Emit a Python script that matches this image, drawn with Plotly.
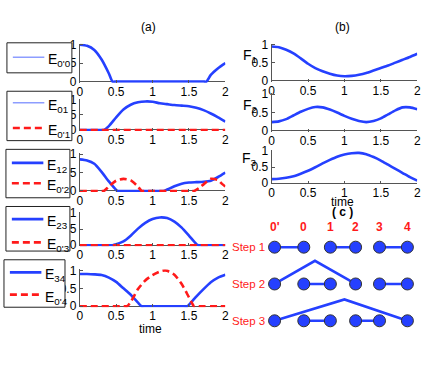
import plotly.graph_objects as go

W, H = 436, 382
BLUE = "#2540ff"
LIGHT = "#8d9dff"
RED = "#ff1a1a"
FONT = "Liberation Sans, Arial, sans-serif"
DASH = "7px,4px"

# ---- values ----
t_e00 = [0, 0.1, 0.2, 0.3, 0.4, 0.45, 0.5, 0.6, 0.7, 0.8, 0.9, 1.0, 1.1, 1.2, 1.3, 1.4, 1.5, 1.6, 1.7, 1.74, 1.8, 1.9, 2.0]
e00 = [1.0, 0.97, 0.86, 0.6, 0.22, 0, 0, 0, 0, 0, 0, 0, 0, 0, 0, 0, 0, 0, 0, 0, 0.18, 0.36, 0.5]

t_e01 = [0, 0.1, 0.2, 0.3, 0.33, 0.4, 0.5, 0.6, 0.7, 0.8, 0.9, 1.0, 1.1, 1.2, 1.3, 1.4, 1.5, 1.6, 1.7, 1.8, 1.9, 2.0]
e01 = [0, 0, 0, 0, 0, 0.13, 0.42, 0.68, 0.84, 0.92, 0.95, 0.94, 0.89, 0.86, 0.83, 0.81, 0.79, 0.74, 0.66, 0.55, 0.42, 0.28]
t_e0p1 = [0, 2]
e0p1 = [0, 0]

t_e12 = [0, 0.1, 0.2, 0.3, 0.4, 0.5, 0.52, 0.6, 0.7, 0.8, 0.9, 1.0, 1.1, 1.15, 1.2, 1.3, 1.4, 1.5, 1.6, 1.7, 1.8, 1.9, 2.0]
e12 = [0.86, 0.83, 0.74, 0.52, 0.26, 0.03, 0, 0, 0, 0, 0, 0, 0, 0, 0.04, 0.13, 0.2, 0.23, 0.24, 0.25, 0.28, 0.38, 0.5]
t_e0p2 = [0, 0.1, 0.2, 0.3, 0.33, 0.4, 0.5, 0.6, 0.7, 0.8, 0.85, 0.9, 1.0, 1.1, 1.2, 1.3, 1.4, 1.5, 1.57, 1.65, 1.7, 1.8, 1.9, 1.95, 2.0]
e0p2 = [0, 0, 0, 0, 0, 0.12, 0.28, 0.33, 0.29, 0.12, 0, 0, 0, 0, 0, 0, 0, 0, 0, 0.1, 0.18, 0.33, 0.3, 0.2, 0.12]

t_e23 = [0, 0.1, 0.2, 0.3, 0.4, 0.45, 0.5, 0.6, 0.7, 0.8, 0.9, 1.0, 1.1, 1.2, 1.3, 1.4, 1.5, 1.6, 1.63, 1.7, 1.8, 1.9, 2.0]
e23 = [0, 0, 0, 0, 0, 0, 0.03, 0.12, 0.3, 0.52, 0.7, 0.82, 0.87, 0.85, 0.74, 0.55, 0.3, 0.04, 0, 0, 0, 0, 0]
t_e0p3 = [0, 2]
e0p3 = [0, 0]

t_e34 = [0, 0.1, 0.2, 0.3, 0.4, 0.5, 0.6, 0.7, 0.8, 0.85, 0.9, 1.0, 1.1, 1.2, 1.3, 1.4, 1.48, 1.5, 1.6, 1.7, 1.8, 1.9, 2.0]
e34 = [0.9, 0.9, 0.89, 0.87, 0.8, 0.68, 0.5, 0.32, 0.1, 0, 0, 0, 0, 0, 0, 0, 0, 0.04, 0.27, 0.48, 0.67, 0.8, 0.88]
t_e0p4 = [0, 0.1, 0.2, 0.3, 0.4, 0.5, 0.6, 0.65, 0.7, 0.8, 0.9, 1.0, 1.1, 1.17, 1.2, 1.3, 1.4, 1.5, 1.57, 1.6, 1.7, 1.8, 1.9, 2.0]
e0p4 = [0, 0, 0, 0, 0, 0, 0, 0, 0.12, 0.48, 0.72, 0.87, 0.97, 1.0, 0.99, 0.88, 0.62, 0.25, 0, 0, 0, 0, 0, 0]

t_f = [0, 0.1, 0.2, 0.3, 0.4, 0.5, 0.6, 0.7, 0.8, 0.9, 1.0, 1.1, 1.2, 1.3, 1.4, 1.5, 1.6, 1.7, 1.8, 1.9, 2.0]
f1 = [0.95, 0.93, 0.86, 0.76, 0.62, 0.47, 0.35, 0.26, 0.19, 0.14, 0.12, 0.13, 0.16, 0.21, 0.28, 0.35, 0.42, 0.5, 0.58, 0.66, 0.75]
f2 = [0.24, 0.26, 0.32, 0.42, 0.52, 0.6, 0.65, 0.64, 0.58, 0.5, 0.41, 0.33, 0.27, 0.24, 0.27, 0.34, 0.45, 0.56, 0.64, 0.64, 0.59]
f3 = [0.13, 0.14, 0.17, 0.22, 0.3, 0.39, 0.5, 0.62, 0.73, 0.83, 0.9, 0.94, 0.95, 0.91, 0.82, 0.71, 0.58, 0.45, 0.32, 0.19, 0.08]

x_ticks = [0, 0.5, 1, 1.5, 2]
x_ticktext = ["0", "0.5", "1", "1.5", "2"]
y_ticks = [0, 0.5, 1]
y_ticktext = ["0", "0.5", "1"]

# panel (c): lattice sites and bonds per step
site_names = ["0'", "0", "1", "2", "3", "4"]
site_pos = [0, 1.1, 2.1, 3.05, 3.95, 5.0]
step_names = ["Step 1", "Step 2", "Step 3"]
step_pairs = [[(0, 1), (2, 3), (4, 5)], [(1, 2), (4, 5)], [(1, 2), (3, 4)]]
# long bonds: (step index, from site, to site, apex x, apex height)
long_bonds = [(1, 0, 3, 1.52, 0.63), (2, 0, 5, 2.63, 0.58)]


def px(x):
    return x / W


def py(y):
    return 1 - y / H


def ydom(p1, p0, pad=0.03):
    u = p0 - p1
    return [py(p0 + pad * u), py(p1 - pad * u)]


def note(text, x, y, size=12, color="black", xanchor="center", xref="paper", yref="paper"):
    if xref == "paper":
        x, y = px(x), py(y)
    return dict(x=x, y=y, xref=xref, yref=yref, text=text, showarrow=False,
                xanchor=xanchor, yanchor="middle",
                font=dict(family=FONT, size=size, color=color))


fig = go.Figure()

panels = [
    (1, (78, 226), (40, 78), [(t_e00, e00, BLUE, "solid")]),
    (2, (78, 226), (97, 128), [(t_e01, e01, BLUE, "solid"), (t_e0p1, e0p1, RED, DASH)]),
    (3, (78, 226), (153, 191), [(t_e12, e12, BLUE, "solid"), (t_e0p2, e0p2, RED, DASH)]),
    (4, (78, 226), (214, 247), [(t_e23, e23, BLUE, "solid"), (t_e0p3, e0p3, RED, DASH)]),
    (5, (78, 226), (273, 310), [(t_e34, e34, BLUE, "solid"), (t_e0p4, e0p4, RED, DASH)]),
    (6, (273, 421), (40, 77), [(t_f, f1, BLUE, "solid")]),
    (7, (273, 421), (91, 129), [(t_f, f2, BLUE, "solid")]),
    (8, (273, 421), (150, 183), [(t_f, f3, BLUE, "solid")]),
]

axis_font = dict(family=FONT, size=12, color="black")
layout_axes = {}
for n, (x0, x1), (p1, p0), series in panels:
    sfx = "" if n == 1 else str(n)
    for t, v, color, dash in series:
        fig.add_trace(go.Scatter(
            x=t, y=v, mode="lines", xaxis="x" + sfx, yaxis="y" + sfx,
            line=dict(color=color, width=2.6, dash=dash, shape="spline", smoothing=0.6),
            showlegend=False, hoverinfo="skip",
        ))
    layout_axes["xaxis" + sfx] = dict(
        domain=[px(x0), px(x1)], range=[0, 2], anchor="y" + sfx,
        tickvals=x_ticks, ticktext=x_ticktext, ticks="inside", ticklen=3,
        tickcolor="#555", showline=False, showgrid=False, zeroline=False,
        tickfont=axis_font,
    )
    layout_axes["yaxis" + sfx] = dict(
        domain=ydom(p1, p0), range=[-0.03, 1.03], anchor="x" + sfx,
        tickvals=y_ticks, ticktext=y_ticktext, ticks="inside", ticklen=3,
        tickcolor="#555", showline=True, linecolor="#555", linewidth=1,
        zeroline=True, zerolinecolor="#555", zerolinewidth=1, showgrid=False,
        tickfont=axis_font,
    )

# panel (c)
bx, by = [], []
for i, pairs in enumerate(step_pairs):
    row = i + 1
    for a, b in pairs:
        bx += [site_pos[a], site_pos[b], None]
        by += [row, row, None]
for i, a, b, ax_, h in long_bonds:
    row = i + 1
    bx += [site_pos[a], ax_, site_pos[b], None]
    by += [row, row - h, row, None]
fig.add_trace(go.Scatter(
    x=bx, y=by, mode="lines", xaxis="x9", yaxis="y9",
    line=dict(color=BLUE, width=2.6), showlegend=False, hoverinfo="skip",
))
nx, ny = [], []
for i in range(len(step_names)):
    nx += site_pos
    ny += [i + 1] * len(site_pos)
fig.add_trace(go.Scatter(
    x=nx, y=ny, mode="markers", xaxis="x9", yaxis="y9",
    marker=dict(size=12, color=BLUE, line=dict(color="#333", width=1)),
    showlegend=False, hoverinfo="skip",
))
layout_axes["xaxis9"] = dict(domain=[px(249), px(424.5)], range=[-1, 5.5],
                             anchor="y9", visible=False)
layout_axes["yaxis9"] = dict(domain=[py(347.8), py(211)], range=[3.6, 0],
                             anchor="x9", visible=False)

annotations = []
for name, xp in zip(site_names, site_pos):
    annotations.append(note("<b>%s</b>" % name, xp, 0.45, size=12, color=RED,
                            xref="x9", yref="y9"))
for i, name in enumerate(step_names):
    annotations.append(note(name, -0.3, i + 1, size=11.5, color=RED, xanchor="right",
                            xref="x9", yref="y9"))

for txt, xp, yp in [("(a)", 148, 22), ("(b)", 345, 22), ("time", 150, 333), ("time", 345, 202)]:
    annotations.append(note(txt, xp, yp, size=12))
annotations.append(note("<b>( c )</b>", 345, 213, size=12))
for k, yp in [(1, 52), (2, 103), (3, 158)]:
    annotations.append(note("F<sub>%d</sub>" % k, 251, yp, size=14))

# legend boxes drawn as shapes over the left tick labels
boxes = [
    ((4, 38, 70, 69), [(53, LIGHT, 1.5, "solid", "E<sub>0'0</sub>")]),
    ((4, 88, 70, 139), [(100, LIGHT, 1.5, "solid", "E<sub>01</sub>"),
                        (126, RED, 2.6, DASH, "E<sub>0'1</sub>")]),
    ((3, 148, 68, 198), [(162, BLUE, 2.6, "solid", "E<sub>12</sub>"),
                         (183, RED, 2.6, DASH, "E<sub>0'2</sub>")]),
    ((3, 207, 68, 253), [(220, BLUE, 2.6, "solid", "E<sub>23</sub>"),
                         (244, RED, 2.6, DASH, "E<sub>0'3</sub>")]),
    ((1, 262, 63, 311), [(275, BLUE, 2.6, "solid", "E<sub>34</sub>"),
                         (298, RED, 2.6, DASH, "E<sub>0'4</sub>")]),
]
shapes = []
for (x0, y0, x1, y1), entries in boxes:
    shapes.append(dict(type="rect", xref="paper", yref="paper", layer="above",
                       x0=px(x0), x1=px(x1), y0=py(y1), y1=py(y0),
                       fillcolor="white", line=dict(color="#222", width=1)))
    for yl, color, width, dash, label in entries:
        shapes.append(dict(type="line", xref="paper", yref="paper", layer="above",
                           x0=px(x0 + 6), x1=px(x0 + 38), y0=py(yl), y1=py(yl),
                           line=dict(color=color, width=width, dash=dash)))
        annotations.append(note(label, x0 + 40, yl + 3, size=14, xanchor="left"))

fig.update_layout(
    width=W, height=H, margin=dict(l=0, r=0, t=0, b=0),
    paper_bgcolor="white", plot_bgcolor="white",
    font=dict(family=FONT, size=12, color="black"),
    shapes=shapes, annotations=annotations, showlegend=False,
    **layout_axes,
)

fig.write_html("out.html", config={"displayModeBar": False},
               post_script="document.body.style.margin='0';"
                           "document.body.style.overflow='hidden';")
